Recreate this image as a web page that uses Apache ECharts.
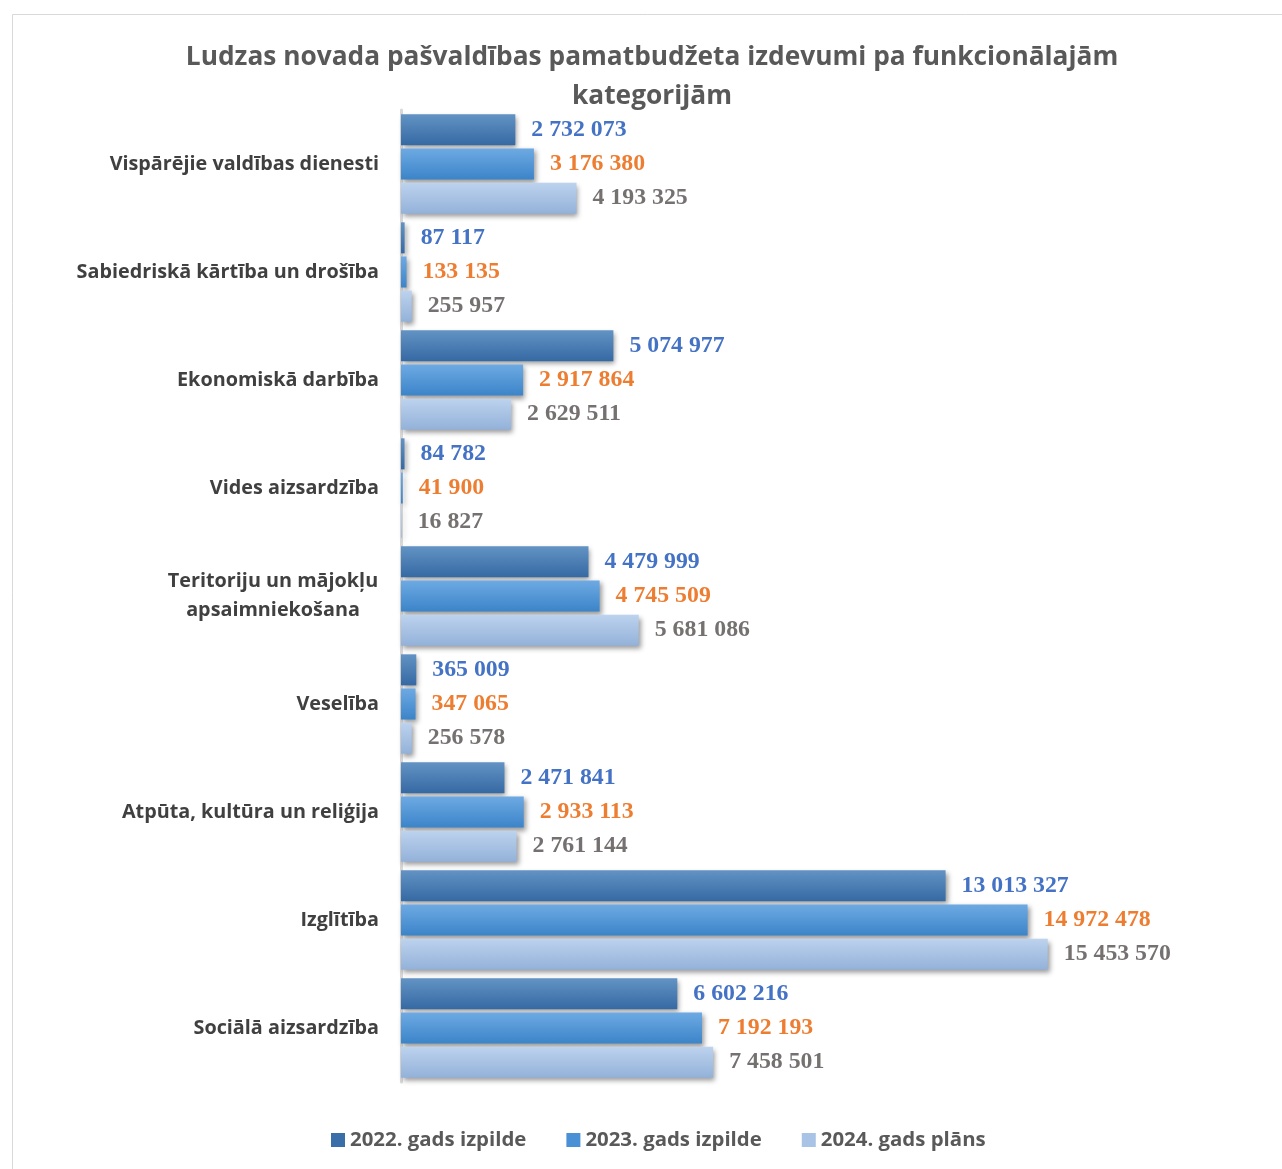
<!DOCTYPE html>
<html><head><meta charset="utf-8">
<script src="https://cdn.jsdelivr.net/npm/echarts@6/dist/echarts.min.js"></script>
<style>html,body{margin:0;padding:0;background:#fff}#c{width:1282px;height:1169px}</style>
</head><body><div id="c"></div>
<script>
const categories = ["Vispārējie valdības dienesti","Sabiedriskā kārtība un drošība","Ekonomiskā darbība","Vides aizsardzība","Teritoriju un mājokļu apsaimniekošana","Veselība","Atpūta, kultūra un reliģija","Izglītība","Sociālā aizsardzība"];
const seriesNames = ["2022. gads izpilde","2023. gads izpilde","2024. gads plāns"];
const v2022 = [2732073,87117,5074977,84782,4479999,365009,2471841,13013327,6602216];
const v2023 = [3176380,133135,2917864,41900,4745509,347065,2933113,14972478,7192193];
const v2024 = [4193325,255957,2629511,16827,5681086,256578,2761144,15453570,7458501];
const titleText = "Ludzas novada pašvaldības pamatbudžeta izdevumi pa funkcionālajām\nkategorijām";

const fmt = v => String(v).replace(/\B(?=(\d{3})+(?!\d))/g, ' ');
const grad = (a,b) => new echarts.graphic.LinearGradient(0,0,0,1,[{offset:0,color:a},{offset:1,color:b}]);
const fills = [grad('#6393c4','#3569a3'), grad('#6eaae3','#3b84c9'), grad('#bdd3ee','#93b1d9')];
const legendColors = ['#3a6ea8','#4a90d4','#a9c3e6'];
const labelColors = ['#4472C4','#ED7D31','#767171'];
const datasets = [v2022, v2023, v2024];

const chart = echarts.init(document.getElementById('c'), null, {renderer:'canvas'});
chart.setOption({
  animation:false,
  backgroundColor:'#fff',
  graphic:[
    {type:'rect', shape:{x:12.5,y:14.5,width:1300,height:1200}, style:{fill:'none',stroke:'#d9d9d9',lineWidth:1}, z:-1},
    {type:'text', x:652, y:38, style:{text:titleText, align:'center', fill:'#595959', font:'bold 26.3px "Open Sans"', lineHeight:39}}
  ],
  legend:{
    bottom:14, left:326, icon:'rect', itemWidth:14, itemHeight:14, itemGap:40,
    textStyle:{fontFamily:'Open Sans', fontWeight:'bold', fontSize:20.4, color:'#595959'},
    data:seriesNames.map((n,i)=>({name:n, itemStyle:{color:legendColors[i]}}))
  },
  grid:{left:401, right:44, top:110, bottom:87, containLabel:false},
  xAxis:{type:'value', min:0, max:20000000, show:false, splitLine:{show:false}},
  yAxis:{
    type:'category', data:categories, inverse:true,
    axisLine:{show:true, lineStyle:{color:'#d9d9d9', width:3}},
    axisTick:{show:false},
    axisLabel:{
      margin:22, color:'#404040', fontFamily:'Open Sans', fontWeight:'bold', fontSize:19.8,
      formatter:function(v){
        if (v.indexOf('Teritoriju')===0) return '{c|Teritoriju un mājokļu}\n{c|apsaimniekošana}';
        return v;
      },
      rich:{c:{width:212, align:'center', color:'#404040', fontFamily:'Open Sans', fontWeight:'bold', fontSize:19.8, lineHeight:29}}
    }
  },
  series: datasets.map((d,i)=>({
    name:seriesNames[i], type:'bar', data:d,
    barGap:'10%', barCategoryGap:'8%',
    itemStyle:{color:fills[i], shadowColor:'rgba(0,0,0,0.4)', shadowBlur:5, shadowOffsetX:2, shadowOffsetY:3},
    label:{show:true, position:'right', distance:16, formatter:p=>fmt(p.value),
      color:labelColors[i], fontFamily:'Liberation Serif', fontWeight:'bold', fontSize:23.8}
  }))
});
</script></body></html>
